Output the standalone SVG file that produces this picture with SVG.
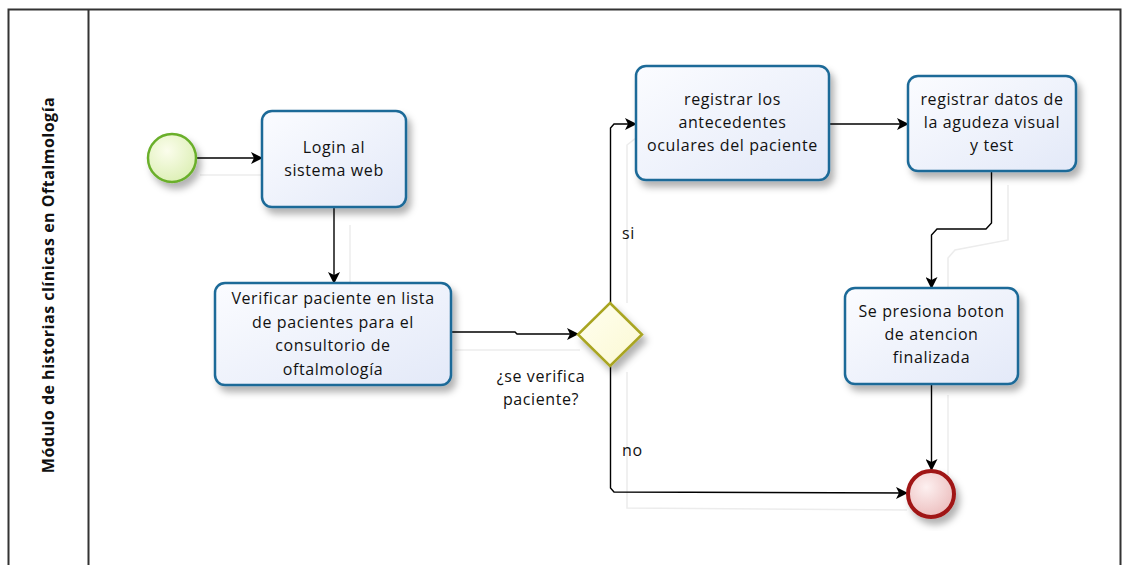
<svg xmlns="http://www.w3.org/2000/svg" width="1123" height="565" viewBox="0 0 1123 565">
<defs>
<linearGradient id="gTask" x1="0" y1="0" x2="1" y2="1">
<stop offset="0" stop-color="#fbfcff"/><stop offset="1" stop-color="#e3e9f8"/>
</linearGradient>
<radialGradient id="gStart" cx="0.4" cy="0.35" r="0.7">
<stop offset="0" stop-color="#fbfdec"/><stop offset="1" stop-color="#dcefb4"/>
</radialGradient>
<radialGradient id="gEnd" cx="0.4" cy="0.35" r="0.7">
<stop offset="0" stop-color="#fdf0f0"/><stop offset="1" stop-color="#ebbcbc"/>
</radialGradient>
<linearGradient id="gGw" x1="0" y1="0" x2="1" y2="1">
<stop offset="0" stop-color="#fffff0"/><stop offset="1" stop-color="#fbf8d2"/>
</linearGradient>
<filter id="sh" x="-20%" y="-20%" width="150%" height="150%">
<feDropShadow dx="4" dy="6" stdDeviation="3.5" flood-color="#000" flood-opacity="0.3"/>
</filter>
<marker id="arr" viewBox="0 0 12 12" refX="11" refY="6" markerWidth="12" markerHeight="12" markerUnits="userSpaceOnUse" orient="auto">
<path d="M0,0 L12,6 L0,12 L3,6 Z" fill="#000"/>
</marker>
<style>
.task{fill:url(#gTask);stroke:#1c6a98;stroke-width:2.5;filter:url(#sh)}
.t{font-family:"Open Sans","DejaVu Sans",sans-serif;font-size:16px;letter-spacing:0.6px;fill:#111;text-anchor:middle}
.lbl{font-family:"Open Sans","DejaVu Sans",sans-serif;font-size:16px;letter-spacing:0.6px;fill:#111}
.c{fill:none;stroke:#000;stroke-width:1.4}
.cs{fill:none;stroke:#ececec;stroke-width:1.5}
</style>
</defs>
<g id="pool">
<rect x="8.5" y="9.5" width="1112" height="570" fill="#fff" stroke="#333" stroke-width="2"/>
<line x1="88.5" y1="9.5" x2="88.5" y2="565" stroke="#333" stroke-width="2"/>
<text transform="translate(54,285) rotate(-90)" font-family="'Open Sans','DejaVu Sans',sans-serif" font-size="16" font-weight="bold" letter-spacing="0.5" text-anchor="middle" fill="#111">Módulo de historias clínicas en Oftalmología</text>
</g>
<g id="connector-shadows">
<path class="cs" d="M200,175 L262,175"/>
<path class="cs" d="M350,225 L350,283"/>
<path class="cs" d="M455,350 L580,350"/>
<path class="cs" d="M627,303 L627,145 L636,138"/>
<path class="cs" d="M627,372 L627,508 L907,510"/>
<path class="cs" d="M1008,185 L1008,240 L955,250 L948,258 L948,288"/>
<path class="cs" d="M948,395 L948,475"/>
</g>
<g id="connectors">
<path class="c" d="M196,158 L262,158" marker-end="url(#arr)"/>
<path class="c" d="M334,207 L334,283" marker-end="url(#arr)"/>
<path class="c" d="M451,332 L515,332 L517,334 L578,334" marker-end="url(#arr)"/>
<path class="c" d="M610.5,303 L610.5,128 L614,124 L636,124" marker-end="url(#arr)"/>
<path class="c" d="M610.5,366 L610.5,488 L614,492 L907,493" marker-end="url(#arr)"/>
<path class="c" d="M829,124 L908,124" marker-end="url(#arr)"/>
<path class="c" d="M991.5,171 L991.5,223 L986,229 L937,229 L931.5,235 L931.5,288" marker-end="url(#arr)"/>
<path class="c" d="M931.5,384 L931.5,470" marker-end="url(#arr)"/>
<text class="lbl" x="622" y="239">si</text>
<text class="lbl" x="622" y="456">no</text>
<text class="t" x="541" y="382">¿se verifica</text>
<text class="t" x="541" y="405">paciente?</text>
</g>
<g id="start">
<circle cx="172" cy="158" r="24" fill="url(#gStart)" stroke="#6aaf2c" stroke-width="2.5" filter="url(#sh)"/>
</g>
<g id="login">
<rect class="task" x="262" y="111" width="144" height="96" rx="10"/>
<text class="t" x="334" y="153">Login al</text>
<text class="t" x="334" y="176">sistema web</text>
</g>
<g id="verificar">
<rect class="task" x="215" y="283" width="236" height="102" rx="10"/>
<text class="t" x="333" y="304">Verificar paciente en lista</text>
<text class="t" x="333" y="327.5">de pacientes para el</text>
<text class="t" x="333" y="351">consultorio de</text>
<text class="t" x="333" y="374.5">oftalmología</text>
</g>
<g id="gateway">
<path d="M610,303 L642,334.5 L610,366 L578,334.5 Z" fill="url(#gGw)" stroke="#a9a520" stroke-width="2.5" filter="url(#sh)"/>
</g>
<g id="antecedentes">
<rect class="task" x="636" y="66" width="193" height="114" rx="10"/>
<text class="t" x="732.5" y="105">registrar los</text>
<text class="t" x="732.5" y="128">antecedentes</text>
<text class="t" x="732.5" y="151">oculares del paciente</text>
</g>
<g id="agudeza">
<rect class="task" x="908" y="76" width="168" height="95" rx="10"/>
<text class="t" x="992" y="105">registrar datos de</text>
<text class="t" x="992" y="128">la agudeza visual</text>
<text class="t" x="992" y="151">y test</text>
</g>
<g id="finalizada">
<rect class="task" x="845" y="288" width="173" height="96" rx="10"/>
<text class="t" x="931.5" y="317">Se presiona boton</text>
<text class="t" x="931.5" y="340">de atencion</text>
<text class="t" x="931.5" y="363">finalizada</text>
</g>
<g id="end">
<circle cx="931" cy="494" r="23" fill="url(#gEnd)" stroke="#a01616" stroke-width="4" filter="url(#sh)"/>
</g>
</svg>
